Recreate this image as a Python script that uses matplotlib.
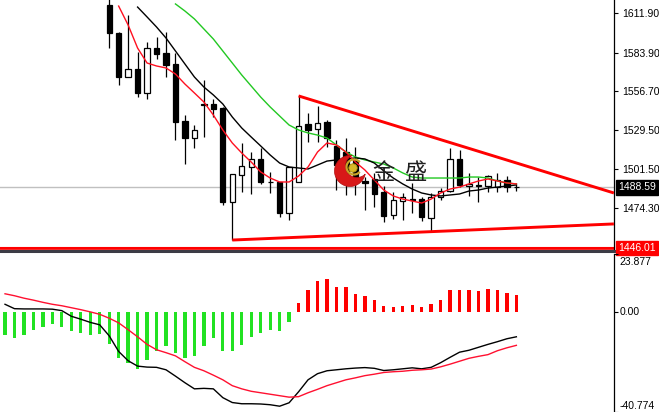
import numpy as np
import matplotlib
matplotlib.use('Agg')
import matplotlib.pyplot as plt
from matplotlib.patches import Rectangle, Circle, Arc, Polygon

plt.rcParams['font.family'] = ['Liberation Sans', 'DejaVu Sans']

# candles for bars 11..54 (earlier bars are above the visible price range)
first_bar = 11
opens = [1617.8, 1598.0, 1566.8, 1572.5, 1555.5, 1587.3, 1583.8, 1576.0, 1535.7, 1523.6,
         1547.7, 1547.4, 1545.0, 1478.3, 1497.5, 1503.1, 1508.8, 1492.5, 1492.5, 1470.6,
         1492.5, 1533.5, 1530.0, 1534.9, 1518.0, 1513.7, 1508.1, 1493.2, 1494.6, 1485.4,
         1469.1, 1479.1, 1480.5, 1480.5, 1467.0, 1481.9, 1486.1, 1508.8, 1489.7, 1489.7,
         1489.7, 1489.0, 1494.0, 1488.9]
highs = [1626.0, 1598.5, 1610.7, 1584.5, 1591.6, 1595.1, 1598.7, 1583.8, 1539.9, 1532.8,
         1564.7, 1551.2, 1545.6, 1498.2, 1520.1, 1513.7, 1516.6, 1499.6, 1492.5, 1503.1,
         1553.4, 1541.3, 1546.3, 1536.4, 1522.2, 1523.6, 1517.3, 1496.0, 1499.0, 1489.7,
         1485.4, 1484.7, 1491.8, 1481.9, 1484.7, 1488.2, 1516.6, 1515.2, 1499.0, 1496.0,
         1497.5, 1499.0, 1496.8, 1491.8]
lows = [1587.3, 1561.2, 1566.5, 1552.7, 1551.2, 1579.5, 1566.8, 1522.2, 1505.2, 1516.6,
        1524.3, 1538.5, 1476.2, 1451.4, 1485.4, 1484.0, 1491.1, 1484.7, 1467.7, 1465.6,
        1492.5, 1520.8, 1520.8, 1517.3, 1486.8, 1483.3, 1483.3, 1472.7, 1474.8, 1464.2,
        1466.3, 1465.6, 1470.6, 1464.9, 1457.1, 1479.8, 1485.4, 1489.0, 1482.6, 1478.3,
        1485.4, 1485.4, 1485.4, 1486.1]
closes = [1598.0, 1566.8, 1572.5, 1555.5, 1587.3, 1583.1, 1575.3, 1535.0, 1523.6, 1529.3,
          1547.2, 1544.2, 1478.3, 1498.2, 1503.8, 1508.8, 1492.5, 1492.8, 1470.6, 1503.1,
          1532.1, 1529.3, 1534.2, 1523.6, 1504.5, 1499.0, 1492.5, 1491.8, 1484.0, 1468.4,
          1479.8, 1481.9, 1479.8, 1467.7, 1481.9, 1486.1, 1508.8, 1490.4, 1491.1, 1490.4,
          1496.8, 1494.0, 1489.0, 1488.59]

# moving averages (red from bar 12, black from bar 14, green from bar 18)
red_ma_start = 12
red_ma = [1617.0, 1603.6, 1587.3, 1576.7, 1574.6, 1573.2, 1568.9, 1561.8, 1555.5, 1549.1,
          1539.9, 1529.3, 1520.1, 1513.0, 1506.6, 1499.6, 1495.3, 1492.5, 1492.5, 1496.7,
          1503.1, 1513.7, 1520.1, 1518.7, 1513.7, 1506.6, 1501.0, 1493.9, 1486.8, 1482.6,
          1480.4, 1479.0, 1477.6, 1480.4, 1484.7, 1487.5, 1488.9, 1491.1, 1493.2, 1494.6,
          1493.2, 1491.8, 1491.1]
black_ma_start = 14
black_ma = [1616.3, 1609.3, 1602.2, 1594.4, 1585.2, 1576.0, 1566.8, 1559.7, 1554.1, 1547.7,
            1538.5, 1530.7, 1524.3, 1518.0, 1511.6, 1505.9, 1503.1, 1502.4, 1501.7, 1504.5,
            1507.3, 1508.1, 1508.8, 1509.5, 1508.8, 1505.9, 1500.3, 1495.3, 1491.1, 1487.5,
            1484.7, 1483.3, 1482.6, 1483.3, 1484.0, 1486.1, 1486.8, 1488.2, 1488.9, 1489.6,
            1490.4]
green_ma_start = 18
green_ma = [1618.5, 1613.5, 1607.9, 1600.8, 1593.7, 1585.2, 1576.7, 1568.2, 1560.4, 1552.6,
            1545.6, 1539.2, 1532.8, 1529.3, 1527.2, 1525.7, 1523.6, 1518.7, 1513.7, 1510.2,
            1508.1, 1506.6, 1505.2, 1502.4, 1498.9, 1496.0, 1495.3, 1495.3, 1495.3, 1495.3,
            1495.3, 1496.0, 1496.0, 1495.3, 1493.2, 1491.8, 1491.1]

# triangle trend lines: (bar, price) endpoints
upper_trend = [(31, 1553.4), (64.3, 1484.7)]
lower_trend = [(24, 1451.4), (64.3, 1462.8)]

bid_price = 1488.59
red_level = 1446.01
red_level2 = 1444.6
price_ticks = [1611.90, 1583.90, 1556.70, 1529.50, 1501.50, 1474.30]

# MACD pane, bars 0..54
macd_hist = [-9.2, -10.5, -9.2, -7.1, -6.0, -4.7, -5.8, -7.8, -8.5, -9.2, -8.8, -12.8,
             -18.7, -20.7, -23.1, -19.4, -15.7, -13.9, -16.7, -18.7, -17.8, -13.9, -10.5,
             -16.0, -15.7, -13.3, -9.9, -8.5, -7.1, -7.5, -4.1, 3.8, 9.0, 12.9, 13.6, 10.2,
             10.2, 7.6, 6.8, 4.9, 2.4, 2.0, 2.7, 3.0, 2.0, 3.5, 4.9, 9.0, 9.0, 9.0, 8.6,
             9.5, 9.0, 8.1, 7.2]
macd_black = [3.3, 1.5, 1.4, 1.4, 1.4, 1.3, 0.7, -1.6, -2.8, -4.1, -5.1, -9.6, -16.0,
              -19.8, -22.0, -22.4, -22.5, -23.5, -26.1, -28.8, -31.3, -31.1, -31.3, -34.9,
              -36.9, -37.4, -37.4, -37.5, -37.8, -38.4, -37.0, -32.5, -27.6, -25.1, -23.9,
              -23.5, -23.1, -22.8, -22.6, -22.9, -23.8, -23.5, -23.1, -22.7, -23.1, -22.5,
              -20.6, -18.4, -16.3, -15.5, -14.3, -13.1, -12.0, -10.8, -10.0]
macd_red = [7.6, 6.8, 5.8, 5.0, 4.1, 3.3, 2.7, 1.9, 1.1, 0.2, -0.8, -2.4, -4.3, -7.1,
            -10.0, -13.1, -15.3, -16.5, -17.8, -20.2, -22.5, -23.9, -25.7, -27.6, -30.0,
            -31.3, -32.3, -32.9, -33.5, -34.1, -34.7, -34.5, -32.9, -31.5, -30.0, -28.8,
            -27.6, -26.8, -25.9, -25.3, -24.6, -24.3, -24.1, -23.7, -23.5, -23.2, -22.3,
            -21.2, -20.0, -18.8, -18.0, -17.3, -15.7, -14.5, -13.5]
macd_max = 23.877
macd_min = -40.774

W, H = 659, 412
fig = plt.figure(figsize=(W / 100, H / 100), dpi=100)
ax = fig.add_axes([0, (H - 251) / H, 614 / W, 251 / H])
ax2 = fig.add_axes([0, 0, 614 / W, 158 / H])

xlim = (-0.53, 64.31)

# ---- main price pane
ax.axhline(bid_price, color='#c0c0c0', lw=1, zorder=1)
ax.axhline(red_level, color='#ff0000', lw=1.5, zorder=1)
ax.axhline(red_level2, color='#ff0000', lw=1.2, zorder=1)

for k in range(len(opens)):
    b = first_bar + k
    o, h, l, c = opens[k], highs[k], lows[k], closes[k]
    ax.vlines(b, l, h, color='black', lw=0.9, zorder=3)
    lo, hi = min(o, c), max(o, c)
    face = 'black' if c < o else 'white'
    ax.add_patch(Rectangle((b - 0.28, lo), 0.56, max(hi - lo, 0.05),
                           facecolor=face, edgecolor='black', lw=0.9, zorder=4))

ax.plot(np.arange(green_ma_start, green_ma_start + len(green_ma)), green_ma,
        color='#22c822', lw=1, zorder=5)
ax.plot(np.arange(black_ma_start, black_ma_start + len(black_ma)), black_ma,
        color='black', lw=1, zorder=5)
ax.plot(np.arange(red_ma_start, red_ma_start + len(red_ma)), red_ma,
        color='#ff1020', lw=1, zorder=6)

for line in (upper_trend, lower_trend):
    ax.plot([p[0] for p in line], [p[1] for p in line], color='#ff0000', lw=2.1,
            zorder=7, solid_capstyle='butt')

ax.set_xlim(*xlim)
ax.set_ylim(1621.3 - 0.7078 * 251, 1621.3)
ax.yaxis.tick_right()
ax.set_yticks(price_ticks)
ax.set_yticklabels(['%.2f' % v for v in price_ticks])
ax.set_xticks([])
ax.tick_params(axis='y', direction='out', length=3, width=0.8, pad=3, labelsize=7.5)
for s in ('left', 'top'):
    ax.spines[s].set_visible(False)
ax.spines['right'].set_linewidth(0.9)
ax.spines['bottom'].set_color('#3c3c46')
ax.spines['bottom'].set_linewidth(2.2)

ax.annotate('%.2f' % bid_price, xy=(1, bid_price), xycoords=('axes fraction', 'data'),
            xytext=(3, 0), textcoords='offset points', ha='left', va='center',
            color='white', fontsize=7.5, annotation_clip=False,
            bbox=dict(boxstyle='square,pad=0.2', facecolor='black', edgecolor='black'))
ax.annotate('%.2f' % red_level, xy=(1, red_level), xycoords=('axes fraction', 'data'),
            xytext=(3, 0), textcoords='offset points', ha='left', va='center',
            color='white', fontsize=7.5, annotation_clip=False,
            bbox=dict(boxstyle='square,pad=0.2', facecolor='#ff0000', edgecolor='#ff0000'))

# ---- MACD pane
bars = np.arange(len(macd_hist))
colors = ['#22e222' if v < 0 else '#ff0000' for v in macd_hist]
ax2.bar(bars, macd_hist, width=0.35, color=colors, zorder=2)
ax2.plot(bars, macd_black, color='black', lw=1, zorder=3)
ax2.plot(bars, macd_red, color='#ff1030', lw=1, zorder=3)
ax2.set_xlim(*xlim)
ax2.set_ylim(macd_min, macd_max)
ax2.yaxis.tick_right()
ax2.set_yticks([macd_max, 0, macd_min])
ax2.set_yticklabels(['', '', ''])
ax2.set_xticks([])
ax2.tick_params(axis='y', direction='out', length=3, width=0.8, pad=3, labelsize=7.5)
for s in ('left', 'top', 'bottom'):
    ax2.spines[s].set_visible(False)
ax2.spines['right'].set_linewidth(0.9)
for val, txt, va, dy in [(macd_max, '23.877', 'top', -2), (0, '0.00', 'center', 0),
                         (macd_min, '-40.774', 'bottom', 1)]:
    ax2.annotate(txt, xy=(1, val), xycoords=('axes fraction', 'data'),
                 xytext=(4, dy), textcoords='offset points', ha='left', va=va,
                 fontsize=7.5, annotation_clip=False)

# ---- watermark logo (pixel coordinates overlay)
ov = fig.add_axes([0, 0, 1, 1], zorder=10)
ov.set_xlim(0, W)
ov.set_ylim(H, 0)
ov.axis('off')
ov.patch.set_alpha(0)


def crescent(cx, cy, R, ix, iy, r, n=720):
    t = np.linspace(0, 2 * np.pi, n, endpoint=False)
    ox, oy = cx + R * np.cos(t), cy + R * np.sin(t)
    keep = np.hypot(ox - ix, oy - iy) >= r
    s = np.where(keep & ~np.roll(keep, 1))[0][0]
    idx = np.roll(np.arange(n), -s)
    idx = idx[keep[idx]]
    outer = np.column_stack([ox[idx], oy[idx]])
    qx, qy = ix + r * np.cos(t), iy + r * np.sin(t)
    keep2 = np.hypot(qx - cx, qy - cy) <= R
    s2 = np.where(keep2 & ~np.roll(keep2, 1))[0][0]
    idx2 = np.roll(np.arange(n), -s2)
    idx2 = idx2[keep2[idx2]]
    inner = np.column_stack([qx[idx2], qy[idx2]])
    if np.hypot(*(inner[0] - outer[-1])) > np.hypot(*(inner[-1] - outer[-1])):
        inner = inner[::-1]
    return np.vstack([outer, inner])


ov.add_patch(Polygon(crescent(350, 171, 15.5, 357, 166, 11.5), closed=True,
                     facecolor='#d81818', edgecolor='#b01010', lw=0.5))
ov.add_patch(Arc((354, 167), 15, 15, theta1=40, theta2=320, color='#c9a227', lw=1.6))
ov.add_patch(Circle((353, 168), 4.2, facecolor='#d8b828', edgecolor='#a88a10', lw=0.6))
ov.text(383, 172, '金', fontsize=16, family=['Noto Sans CJK SC'], color='#202020',
        ha='center', va='center')
ov.text(415, 172, '盛', fontsize=16, family=['Noto Sans CJK SC'], color='#202020',
        ha='center', va='center')

fig.savefig('out.png', dpi=100)
